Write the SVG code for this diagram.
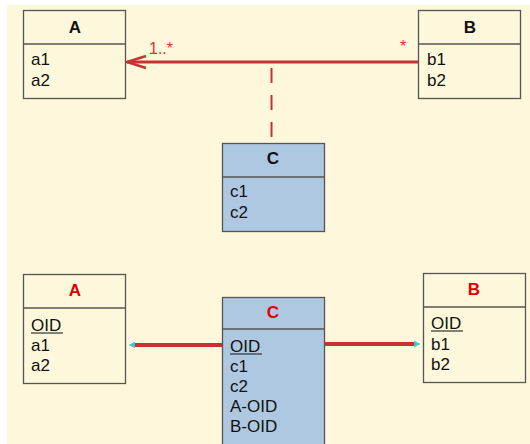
<svg xmlns="http://www.w3.org/2000/svg" width="530" height="444" viewBox="0 0 530 444">
<style>
text{font-family:"Liberation Sans",Arial,sans-serif;font-size:17px;fill:#111}
.t{font-weight:bold;text-anchor:middle}
.r{fill:#e00000}
.box{fill:#fdf8dc;stroke:#555;stroke-width:1.3}
.blue{fill:#afc8e2;stroke:#555;stroke-width:1.3}
.div{stroke:#555;stroke-width:1.3}
.ul{stroke:#333;stroke-width:1.2}
.lbl{fill:#e03030;font-size:16px}
</style>
<defs>
<marker id="cy" viewBox="0 0 10 10" refX="2" refY="5" markerWidth="1.7" markerHeight="1.7" orient="auto" markerUnits="strokeWidth">
<path d="M0,0 L10,5 L0,10 z" fill="#33cccc"/>
</marker>
</defs>
<rect x="0" y="0" width="530" height="444" fill="#ffffff"/>
<rect x="7" y="5" width="523" height="439" fill="#fdf8dc"/>
<g id="connectors">
<line x1="418" y1="62" x2="127" y2="62" stroke="#c83232" stroke-width="3"/>
<path d="M146,56 L127,62 L146,68" fill="none" stroke="#c83232" stroke-width="2.5"/>
<text class="lbl" x="149" y="54">1..*</text>
<text class="lbl" x="400" y="52">*</text>
<line x1="271.5" y1="68" x2="271.5" y2="142" stroke="#c83232" stroke-width="2" stroke-dasharray="15,12"/>
<line x1="222" y1="345" x2="134" y2="345" stroke="#c83232" stroke-width="4" marker-end="url(#cy)"/>
<line x1="325" y1="344" x2="415" y2="344" stroke="#c83232" stroke-width="4" marker-end="url(#cy)"/>
</g>
<g id="A1">
<rect class="box" x="23.5" y="10.5" width="102" height="88"/>
<line class="div" x1="23.5" y1="44" x2="125.5" y2="44"/>
<text class="t" x="75" y="33">A</text>
<text x="31" y="65">a1</text>
<text x="31" y="86">a2</text>
</g>
<g id="B1">
<rect class="box" x="418.5" y="10.5" width="102" height="88"/>
<line class="div" x1="418.5" y1="44" x2="520.5" y2="44"/>
<text class="t" x="470" y="33">B</text>
<text x="427" y="65">b1</text>
<text x="427" y="86">b2</text>
</g>
<g id="C1">
<rect class="blue" x="222.5" y="143.5" width="102" height="88"/>
<line class="div" x1="222.5" y1="177" x2="324.5" y2="177"/>
<text class="t" x="273" y="164">C</text>
<text x="230" y="197">c1</text>
<text x="230" y="218">c2</text>
</g>
<g id="A2">
<rect class="box" x="23.5" y="274.5" width="102" height="109"/>
<line class="div" x1="23.5" y1="308" x2="125.5" y2="308"/>
<text class="t r" x="75" y="296">A</text>
<text x="31" y="331">OID</text>
<line class="ul" x1="31" y1="333" x2="63" y2="333"/>
<text x="31" y="351">a1</text>
<text x="31" y="371">a2</text>
</g>
<g id="C2">
<rect class="blue" x="222.5" y="297.5" width="102" height="150"/>
<line class="div" x1="222.5" y1="329" x2="324.5" y2="329"/>
<text class="t r" x="273" y="318">C</text>
<text x="230" y="352">OID</text>
<line class="ul" x1="230" y1="354" x2="262" y2="354"/>
<text x="230" y="372">c1</text>
<text x="230" y="392">c2</text>
<text x="230" y="412">A-OID</text>
<text x="230" y="432">B-OID</text>
</g>
<g id="B2">
<rect class="box" x="423.5" y="273.5" width="102" height="109"/>
<line class="div" x1="423.5" y1="307" x2="525.5" y2="307"/>
<text class="t r" x="474" y="295">B</text>
<text x="431" y="329">OID</text>
<line class="ul" x1="431" y1="331" x2="463" y2="331"/>
<text x="431" y="350">b1</text>
<text x="431" y="370">b2</text>
</g>
</svg>
